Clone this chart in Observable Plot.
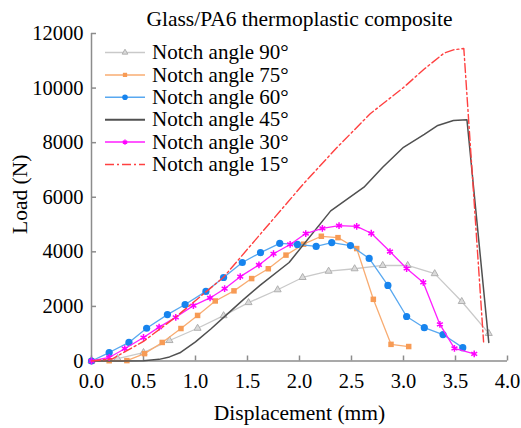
<!DOCTYPE html>
<html><head><meta charset="utf-8">
<script src="https://cdn.jsdelivr.net/npm/d3@7"></script>
<script src="https://cdn.jsdelivr.net/npm/@observablehq/plot@0.6"></script>
<style>body{margin:0;background:#fff} #c{position:relative;width:521px;height:428px}</style>
</head><body><div id="c"></div>
<script>
const titleText = "Glass/PA6 thermoplastic composite";
const xLabel = "Displacement (mm)";
const yLabel = "Load (N)";
const seriesNames = ["Notch angle 90°","Notch angle 75°","Notch angle 60°","Notch angle 45°","Notch angle 30°","Notch angle 15°"];

const x90 = [0,0.25,0.5,0.75,1.02,1.27,1.51,1.79,2.03,2.28,2.53,2.8,3.04,3.3,3.56,3.82];
const y90 = [0,90,310,750,1200,1660,2140,2610,3060,3290,3380,3500,3500,3200,2180,1010];

const x75 = [0,0.17,0.34,0.51,0.68,0.86,1.02,1.19,1.37,1.54,1.7,1.87,2.04,2.21,2.37,2.55,2.71,2.88,3.05];
const y75 = [0,10,15,270,680,1190,1670,2200,2570,3020,3380,3880,4280,4570,4520,4120,2260,610,530];

const x60 = [0,0.17,0.36,0.53,0.73,0.9,1.1,1.27,1.45,1.625,1.81,1.98,2.16,2.31,2.49,2.67,2.85,3.03,3.2,3.38,3.57];
const y60 = [0,310,680,1200,1700,2070,2550,3060,3610,3970,4310,4270,4200,4340,4230,3760,2770,1630,1220,970,490];

const x45 = [0,0.3,0.5,0.65,0.75,0.85,1.0,1.15,1.3,1.46,1.62,1.9,2.3,2.62,2.8,3.0,3.2,3.33,3.48,3.61,3.82];
const y45 = [0,0,10,60,150,300,700,1180,1700,2250,2770,3610,5500,6370,7100,7830,8300,8630,8810,8840,680];

const x30 = [0,0.17,0.32,0.5,0.65,0.81,0.98,1.14,1.28,1.43,1.61,1.75,1.91,2.06,2.22,2.38,2.55,2.69,2.87,3.03,3.19,3.35,3.49,3.68];
const y30 = [0,130,450,860,1240,1600,2030,2310,2650,3090,3520,3930,4270,4670,4860,4960,4930,4680,4010,3390,2880,1340,460,260];

const x15 = [0,0.2,0.5,0.8,1.27,1.5,1.75,2.04,2.36,2.68,3.0,3.2,3.39,3.48,3.58,3.77];
const y15 = [0,80,720,1580,3070,4100,5210,6500,7820,9060,10020,10700,11280,11400,11450,700];

const xTicks = [0,0.5,1,1.5,2,2.5,3,3.5,4];
const yTicks = [0,2000,4000,6000,8000,10000,12000];

const xs = [x90,x75,x60,x45,x30,x15];
const ys = [y90,y75,y60,y45,y30,y15];

const styles = [
  {line:"#c9c9c9", width:1.3, symbol:"triangle", r:2.6, fill:"#dadada", stroke:"#b0b0b0", lr:2.1},
  {line:"#f8ac72", width:1.3, symbol:"square", r:3.1, fill:"#f79b55", stroke:"none", lr:2.4},
  {line:"#58a8f0", width:1.3, symbol:"circle", r:3.6, fill:"#1784ee", stroke:"none", lr:2.8},
  {line:"#505050", width:1.5, symbol:null},
  {line:"#ff1eff", width:1.3, symbol:"asterisk", r:3.2, fill:"none", stroke:"#ff00ff", lr:2.4},
  {line:"#ff4040", width:1.4, symbol:null, dash:"9,3,2,3"}
];

const rows = [];
seriesNames.forEach((s, i) => xs[i].forEach((x, j) => rows.push({series: s, idx: i, x, y: ys[i][j]})));

const axisColor = "#8c8c8c";
const font = "'Liberation Serif','Times New Roman',Times,serif";

const marks = [
  Plot.ruleY([0], {stroke: axisColor, strokeWidth: 1.5}),
  Plot.ruleX([0], {stroke: axisColor, strokeWidth: 1.5}),
  Plot.axisX(xTicks, {tickSize: -5, tickPadding: 17, stroke: axisColor, strokeWidth: 1.5, fill: "#000", tickFormat: d => d.toFixed(1), label: null, fontSize: 20.5}),
  Plot.axisY(yTicks, {tickSize: -5, tickPadding: 13, stroke: axisColor, strokeWidth: 1.5, fill: "#000", tickFormat: d => String(d), label: null, fontSize: 20.5}),
  Plot.text([xLabel], {frameAnchor: "bottom", lineAnchor: "middle", textAnchor: "middle", dy: 52.5, fontSize: 21.5, fill: "#000"}),
  Plot.text([yLabel], {frameAnchor: "left", lineAnchor: "middle", textAnchor: "middle", dx: -71, dy: -3, rotate: -90, fontSize: 21.5, fill: "#000"}),
  Plot.text([titleText], {frameAnchor: "top", lineAnchor: "middle", textAnchor: "middle", dy: -14, fontSize: 21.5, fill: "#000"})
];

seriesNames.forEach((s, i) => {
  const st = styles[i];
  const d = rows.filter(r => r.idx === i);
  marks.push(Plot.line(d, {x: "x", y: "y", stroke: st.line, strokeWidth: st.width, strokeDasharray: st.dash || null}));
  if (st.symbol) {
    marks.push(Plot.dot(d, {x: "x", y: "y", symbol: st.symbol, r: st.r, fill: st.fill, stroke: st.stroke, strokeWidth: st.symbol === "asterisk" ? 1.5 : 1}));
  }
});

const chart = Plot.plot({
  width: 521, height: 428,
  marginLeft: 91, marginRight: 14, marginTop: 33, marginBottom: 67.5,
  style: {fontFamily: font, fontSize: "20px", background: "white", color: "#000"},
  x: {domain: [0, 4]},
  y: {domain: [0, 12000]},
  marks
});
document.getElementById("c").appendChild(chart);

// legend
const svg = d3.select(chart);
const lg = svg.append("g").attr("font-family", font).attr("font-size", 21).attr("text-anchor", "start");
const symMap = {triangle: d3.symbolTriangle, square: d3.symbolSquare, circle: d3.symbolCircle, asterisk: d3.symbolAsterisk};
seriesNames.forEach((s, i) => {
  const st = styles[i];
  const cy = 52.5 + i * 22.4;
  const g = lg.append("g").attr("transform", `translate(0,${cy})`);
  g.append("line").attr("x1", 105).attr("x2", 145).attr("y1", 0).attr("y2", 0)
    .attr("stroke", st.line).attr("stroke-width", i === 3 ? 2 : 1.5).attr("stroke-dasharray", st.dash || null);
  if (st.symbol) {
    g.append("path").attr("transform", "translate(125,0)")
      .attr("d", d3.symbol(symMap[st.symbol], Math.PI * st.lr * st.lr)())
      .attr("fill", st.fill).attr("stroke", st.stroke).attr("stroke-width", st.symbol === "asterisk" ? 1.4 : 1);
  }
  g.append("text").attr("x", 152).attr("y", 0).attr("dy", "0.32em").attr("text-anchor", "start").attr("fill", "#000").text(s);
});
</script>
</body></html>
